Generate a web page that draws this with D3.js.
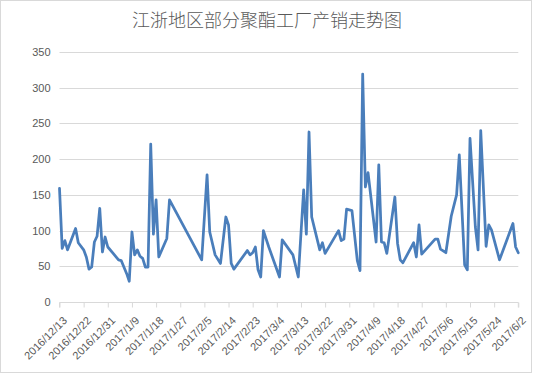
<!DOCTYPE html>
<html><head><meta charset="utf-8">
<script src="https://cdn.jsdelivr.net/npm/d3@7"></script>
<style>
html,body{margin:0;padding:0;background:#fff;}
svg{display:block;}
</style></head>
<body>
<svg id="chart" width="536" height="374"></svg>
<script>
const title = "江浙地区部分聚酯工厂产销走势图";
const dates = ["2016/12/13","2016/12/14","2016/12/15","2016/12/16","2016/12/19","2016/12/20","2016/12/22","2016/12/23","2016/12/24","2016/12/25","2016/12/26","2016/12/27","2016/12/28","2016/12/29","2016/12/30","2016/12/31","2017/1/2","2017/1/4","2017/1/5","2017/1/6","2017/1/7","2017/1/8","2017/1/9","2017/1/10","2017/1/11","2017/1/12","2017/1/13","2017/1/14","2017/1/15","2017/1/16","2017/1/17","2017/1/18","2017/1/19","2017/1/22","2017/1/23","2017/2/4","2017/2/6","2017/2/7","2017/2/9","2017/2/11","2017/2/13","2017/2/14","2017/2/15","2017/2/16","2017/2/21","2017/2/22","2017/2/23","2017/2/24","2017/2/25","2017/2/26","2017/2/27","2017/3/1","2017/3/3","2017/3/5","2017/3/6","2017/3/10","2017/3/12","2017/3/14","2017/3/15","2017/3/16","2017/3/17","2017/3/20","2017/3/21","2017/3/22","2017/3/27","2017/3/28","2017/3/29","2017/3/30","2017/4/1","2017/4/3","2017/4/4","2017/4/5","2017/4/6","2017/4/7","2017/4/10","2017/4/11","2017/4/12","2017/4/13","2017/4/14","2017/4/17","2017/4/18","2017/4/19","2017/4/20","2017/4/24","2017/4/25","2017/4/26","2017/4/27","2017/5/2","2017/5/3","2017/5/4","2017/5/6","2017/5/8","2017/5/10","2017/5/11","2017/5/13","2017/5/14","2017/5/15","2017/5/17","2017/5/18","2017/5/19","2017/5/21","2017/5/22","2017/5/23","2017/5/26","2017/5/31","2017/6/1","2017/6/2"];
const values = [159,75,86,73,103,83,73,63,46,49,84,92,131,70,91,77,68,59,58,49,40,29,98,66,73,64,61,49,49,221,95,143,63,89,143,59,178,98,66,54,119,108,54,46,72,66,69,77,45,35,100,77,56,35,87,66,35,157,95,238,119,73,83,68,100,86,88,130,128,58,44,319,161,181,84,192,84,83,68,147,82,59,55,83,63,108,67,88,88,74,69,120,150,206,52,45,229,105,73,240,78,108,101,59,110,77,69];
const xTickLabels = ["2016/12/13","2016/12/22","2016/12/31","2017/1/9","2017/1/18","2017/1/27","2017/2/5","2017/2/14","2017/2/23","2017/3/4","2017/3/13","2017/3/22","2017/3/31","2017/4/9","2017/4/18","2017/4/27","2017/5/6","2017/5/15","2017/5/24","2017/6/2"];
const yTicks = [0,50,100,150,200,250,300,350];

const parse = s => { const p = s.split("/").map(Number); return new Date(p[0], p[1]-1, p[2]); };
const data = dates.map((d,i) => ({date: parse(d), value: values[i]}));
const tickDates = xTickLabels.map(parse);

const svg = d3.select("#chart");
const plotL = 59.5, plotR = 518.3, plotT = 52, plotB = 302;

svg.append("rect").attr("x",0.5).attr("y",0.5).attr("width",531).attr("height",372)
  .attr("fill","#fff").attr("stroke","#d9d9d9").attr("stroke-width",1);

const x = d3.scaleTime().domain([tickDates[0], tickDates[tickDates.length-1]]).range([plotL, plotR]);
const y = d3.scaleLinear().domain([0,350]).range([plotB, plotT]);

svg.append("text").attr("x",267).attr("y",27).attr("text-anchor","middle")
  .attr("font-family","'Noto Sans CJK SC', sans-serif").attr("font-size",18).attr("font-weight",300)
  .attr("fill","#595959").text(title);

svg.append("g").selectAll("line").data(yTicks.filter(v=>v>0)).join("line")
  .attr("x1",plotL).attr("x2",plotR)
  .attr("y1",d=>Math.round(y(d))+0.5).attr("y2",d=>Math.round(y(d))+0.5)
  .attr("stroke","#d9d9d9").attr("stroke-width",1);

const yAxis = d3.axisLeft(y).tickValues(yTicks).tickSize(0).tickPadding(9);
const gy = svg.append("g").attr("transform",`translate(${plotL},0)`).call(yAxis);
gy.select(".domain").remove();
gy.selectAll("text").attr("font-family","'Liberation Sans', Arial, sans-serif").attr("font-size",11).attr("fill","#595959");

const xAxis = d3.axisBottom(x).tickValues(tickDates).tickSize(5).tickFormat((d,i)=>xTickLabels[i]);
const gx = svg.append("g").attr("transform",`translate(0,${Math.round(plotB)+0.5})`).call(xAxis);
gx.select(".domain").attr("stroke","#d9d9d9").attr("d",`M${plotL},5V0H${plotR}V5`);
gx.selectAll(".tick line").attr("stroke","#d9d9d9");
gx.selectAll("text")
  .attr("font-family","'Liberation Sans', Arial, sans-serif").attr("font-size",11).attr("fill","#595959")
  .attr("text-anchor","end").attr("dy","0.35em")
  .attr("transform","translate(5,16) rotate(-45)").attr("y",0).attr("x",0);

const line = d3.line().x(d=>x(d.date)).y(d=>y(d.value));
svg.append("path").datum(data).attr("d",line).attr("fill","none")
  .attr("stroke","#4a7ebb").attr("stroke-width",2.75).attr("stroke-linejoin","round").attr("stroke-linecap","round");
</script>
</body></html>
